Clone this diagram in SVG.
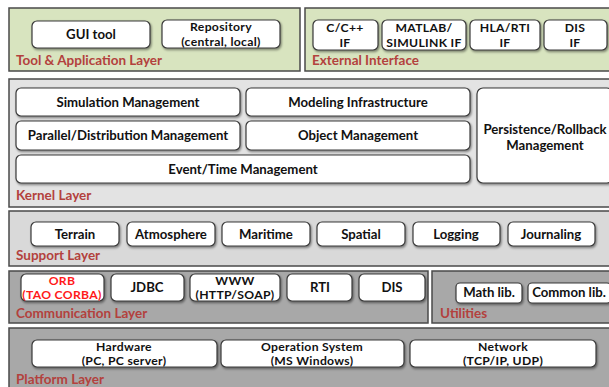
<svg xmlns="http://www.w3.org/2000/svg" width="609" height="387" viewBox="0 0 609 387">
<defs>
<filter id="sh" x="-10%" y="-10%" width="130%" height="140%">
<feDropShadow dx="1" dy="1.5" stdDeviation="0.8" flood-color="#000" flood-opacity="0.45"/>
</filter>
</defs>
<style>
.layer{stroke:#4a4a4a;stroke-width:1.5}
.green{fill:#d8e4bf}
.lite{fill:#e3e3e3}
.mid{fill:#d9d9d9}
.dark{fill:#a8a8a8}
.node rect{fill:#fff;stroke:#3a3a3a;stroke-width:1.2;filter:url(#sh)}
text{font-family:Lato,"Open Sans","Liberation Sans",sans-serif;font-weight:bold;text-anchor:middle;fill:#111;font-size:13.2px}
.two{font-size:12.2px;letter-spacing:0.3px}
.lbl{text-anchor:start;fill:#b3413d;font-size:13.5px}
.red{fill:#ff1a1a}
</style>
<rect width="609" height="387" fill="#fff"/>
<g id="layers">
<rect class="layer green" x="9" y="8" width="291" height="63"/>
<rect class="layer green" x="305" y="8" width="306" height="63"/>
<rect class="layer lite" x="9" y="79" width="602" height="128"/>
<rect class="layer mid" x="9" y="211" width="602" height="55"/>
<rect class="layer dark" x="9" y="271" width="419" height="52"/>
<rect class="layer dark" x="432" y="271" width="179" height="52"/>
<rect class="layer dark" x="9" y="328" width="602" height="62"/>
<text class="lbl" x="16" y="65">Tool &amp; Application Layer</text>
<text class="lbl" x="312" y="65">External Interface</text>
<text class="lbl" x="16" y="200">Kernel Layer</text>
<text class="lbl" x="16" y="260">Support Layer</text>
<text class="lbl" x="16" y="318">Communication Layer</text>
<text class="lbl" x="440" y="318">Utilities</text>
<text class="lbl" x="16" y="384">Platform Layer</text>
</g>
<g id="gui" class="node"><rect x="32" y="21" width="118" height="27" rx="5"/><text x="91" y="39">GUI tool</text></g>
<g id="repo" class="node"><rect x="162" y="20" width="118" height="28" rx="5"/><text class="two" x="221" y="31">Repository</text><text class="two" x="221" y="45.5">(central, local)</text></g>
<g id="cif" class="node"><rect x="313" y="20" width="65" height="30" rx="5"/><text class="two" x="345" y="32">C/C++</text><text class="two" x="345" y="46.5">IF</text></g>
<g id="matlab" class="node"><rect x="382" y="20" width="84" height="30" rx="5"/><text class="two" x="424" y="32">MATLAB/</text><text class="two" x="424" y="46.5">SIMULINK IF</text></g>
<g id="hla" class="node"><rect x="470" y="20" width="70" height="30" rx="5"/><text class="two" x="505" y="32">HLA/RTI</text><text class="two" x="505" y="46.5">IF</text></g>
<g id="disif" class="node"><rect x="544" y="20" width="63" height="30" rx="5"/><text class="two" x="575" y="32">DIS</text><text class="two" x="575" y="46.5">IF</text></g>
<g id="sim" class="node"><rect x="16" y="88" width="224" height="28" rx="5"/><text x="128" y="107">Simulation Management</text></g>
<g id="model" class="node"><rect x="246" y="88" width="224" height="28" rx="5"/><text x="358" y="107">Modeling Infrastructure</text></g>
<g id="par" class="node"><rect x="16" y="121" width="224" height="29" rx="5"/><text x="128" y="140">Parallel/Distribution Management</text></g>
<g id="obj" class="node"><rect x="246" y="121" width="224" height="29" rx="5"/><text x="358" y="140">Object Management</text></g>
<g id="evt" class="node"><rect x="16" y="155" width="454" height="28" rx="5"/><text x="243" y="174">Event/Time Management</text></g>
<g id="pers" class="node"><rect x="477" y="88" width="136" height="95" rx="6"/><text x="545" y="134">Persistence/Rollback</text><text x="545" y="150">Management</text></g>
<g id="terrain" class="node"><rect x="31" y="222" width="88" height="24" rx="5"/><text x="75" y="239">Terrain</text></g>
<g id="atmo" class="node"><rect x="127" y="222" width="88" height="24" rx="5"/><text x="171" y="239">Atmosphere</text></g>
<g id="mari" class="node"><rect x="222" y="222" width="88" height="24" rx="5"/><text x="266" y="239">Maritime</text></g>
<g id="spatial" class="node"><rect x="317" y="222" width="88" height="24" rx="5"/><text x="361" y="239">Spatial</text></g>
<g id="logging" class="node"><rect x="413" y="222" width="87" height="24" rx="5"/><text x="456" y="239">Logging</text></g>
<g id="journal" class="node"><rect x="508" y="222" width="87" height="24" rx="5"/><text x="551" y="239">Journaling</text></g>
<g id="orb" class="node"><rect x="21" y="274" width="83" height="27" rx="5"/><text class="two red" x="62" y="284.5">ORB</text><text class="two red" x="62" y="299">(TAO CORBA)</text></g>
<g id="jdbc" class="node"><rect x="111" y="274" width="73" height="27" rx="5"/><text x="147" y="292">JDBC</text></g>
<g id="www" class="node"><rect x="190" y="274" width="90" height="27" rx="5"/><text class="two" x="235" y="284.5">WWW</text><text class="two" x="235" y="299">(HTTP/SOAP)</text></g>
<g id="rti" class="node"><rect x="287" y="274" width="65" height="27" rx="5"/><text x="320" y="292">RTI</text></g>
<g id="dis" class="node"><rect x="359" y="274" width="66" height="27" rx="5"/><text x="392" y="292">DIS</text></g>
<g id="math" class="node"><rect x="456" y="283" width="66" height="20" rx="4"/><text x="489" y="297">Math lib.</text></g>
<g id="common" class="node"><rect x="528" y="283" width="83" height="20" rx="4"/><text x="569" y="297">Common lib.</text></g>
<g id="hw" class="node"><rect x="32" y="340" width="185" height="27" rx="5"/><text class="two" x="124" y="350.5">Hardware</text><text class="two" x="124" y="365">(PC, PC server)</text></g>
<g id="os" class="node"><rect x="221" y="340" width="183" height="27" rx="5"/><text class="two" x="312" y="350.5">Operation System</text><text class="two" x="312" y="365">(MS Windows)</text></g>
<g id="net" class="node"><rect x="410" y="340" width="186" height="27" rx="5"/><text class="two" x="503" y="350.5">Network</text><text class="two" x="503" y="365">(TCP/IP, UDP)</text></g>
<g id="connectors"></g>
</svg>
